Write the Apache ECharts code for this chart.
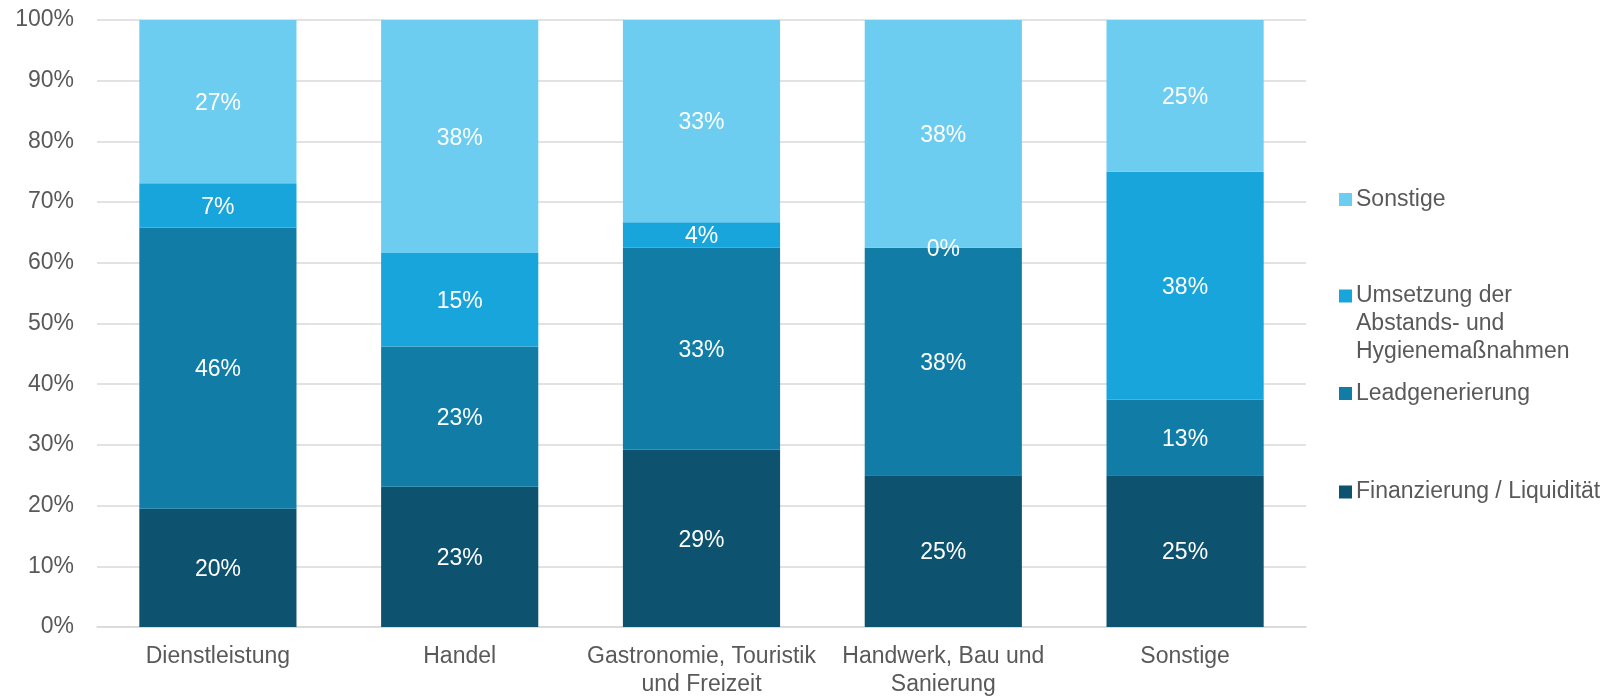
<!DOCTYPE html>
<html>
<head>
<meta charset="utf-8">
<script src="https://cdn.jsdelivr.net/npm/echarts@6/dist/echarts.min.js"></script>
<style>
html,body{margin:0;padding:0;background:#fff;}
#chart{width:1623px;height:699px;}
</style>
</head>
<body>
<div id="chart"></div>
<script>
const categories = ['Dienstleistung', 'Handel', 'Gastronomie, Touristik\nund Freizeit', 'Handwerk, Bau und\nSanierung', 'Sonstige'];
const seriesNames = ['Finanzierung / Liquidität', 'Leadgenerierung', 'Umsetzung der Abstands- und Hygienemaßnahmen', 'Sonstige'];
const finanzierung = [19.5, 23.1, 29.2, 25.0, 25.0];
const leadgenerierung = [46.3, 23.1, 33.3, 37.5, 12.5];
const umsetzung = [7.3, 15.4, 4.2, 0, 37.5];
const sonstige = [26.9, 38.4, 33.3, 37.5, 25.0];
const yTicks = [0, 10, 20, 30, 40, 50, 60, 70, 80, 90, 100];

const colors = ['#0D526E', '#117DA7', '#18A5DC', '#6CCDF0'];
const FONT = '"Liberation Sans", Arial, sans-serif';
const textGray = '#595959';

const chart = echarts.init(document.getElementById('chart'), null, {renderer: 'canvas'});

function mkSeries(name, data, color) {
  return {
    name: name,
    type: 'bar',
    stack: 'total',
    data: data,
    barWidth: '65%',
    itemStyle: {color: color},
    label: {
      show: true,
      position: 'inside',
      offset: [0, 2],
      color: '#fff',
      fontFamily: FONT,
      fontSize: 23,
      formatter: p => Math.round(p.value) + '%'
    },
    emphasis: {disabled: true}
  };
}

function mkLegend(name, top, text) {
  return {
    data: [name],
    orient: 'vertical',
    left: 1339,
    top: top,
    padding: 0,
    itemWidth: 13,
    itemHeight: 13,
    itemGap: 0,
    icon: 'rect',
    selectedMode: false,
    formatter: text ? (() => text) : undefined,
    textStyle: {
      color: textGray,
      fontFamily: FONT,
      fontSize: 23,
      lineHeight: 28,
      padding: [0, 0, 0, -1]
    }
  };
}

const option = {
  animation: false,
  grid: {left: 97, right: 317, top: 20, bottom: 68.5, containLabel: false},
  xAxis: {
    type: 'category',
    data: categories,
    axisLine: {show: true, lineStyle: {color: '#D9D9D9', width: 1.5}},
    axisTick: {show: false},
    axisLabel: {
      color: textGray,
      fontFamily: FONT,
      fontSize: 23,
      lineHeight: 28,
      margin: 16,
      interval: 0
    }
  },
  yAxis: {
    type: 'value',
    min: yTicks[0],
    max: yTicks[yTicks.length - 1],
    interval: 10,
    axisLine: {show: false},
    axisTick: {show: false},
    splitLine: {lineStyle: {color: '#D9D9D9', width: 1.5}},
    axisLabel: {
      color: textGray,
      fontFamily: FONT,
      fontSize: 23,
      margin: 23,
      formatter: v => v + '%'
    }
  },
  legend: [
    mkLegend(seriesNames[3], 185.5),
    mkLegend(seriesNames[2], 226, '\n\nUmsetzung der\nAbstands- und\nHygienemaßnahmen'),
    mkLegend(seriesNames[1], 379.5),
    mkLegend(seriesNames[0], 478)
  ],
  series: [
    mkSeries(seriesNames[0], finanzierung, colors[0]),
    mkSeries(seriesNames[1], leadgenerierung, colors[1]),
    mkSeries(seriesNames[2], umsetzung, colors[2]),
    mkSeries(seriesNames[3], sonstige, colors[3])
  ]
};
chart.setOption(option);
</script>
</body>
</html>
